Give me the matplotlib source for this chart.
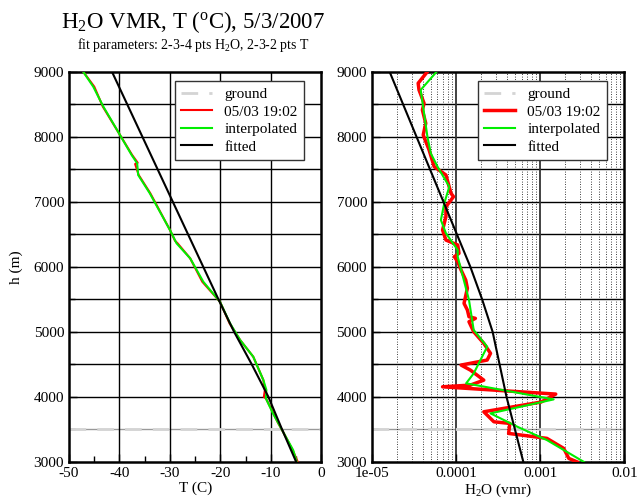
#!/usr/bin/env python3
import numpy as np
import matplotlib
matplotlib.use('Agg')
import matplotlib.pyplot as plt
from matplotlib.ticker import FixedLocator, FuncFormatter, LogLocator, NullFormatter

plt.rcParams['font.family'] = ['Liberation Serif', 'DejaVu Serif']
plt.rcParams['mathtext.fontset'] = 'custom'
plt.rcParams['mathtext.rm'] = 'Liberation Serif'
plt.rcParams['mathtext.it'] = 'Liberation Serif:italic'
plt.rcParams['axes.unicode_minus'] = False

# temperature profile (left panel)
t_h = [9000, 8769, 8462, 8026, 7719, 7591, 7411, 7130, 6565, 6361, 6130,
       5770, 5463, 5130, 4874, 4617, 4258, 4105, 3977, 3746, 3463, 3182, 3002]
t_meas = [-47.2, -45.2, -43.2, -39.9, -37.6, -36.5, -36.3, -34.0, -30.0, -28.7, -26.0,
          -23.4, -20.1, -18.1, -16.1, -13.5, -11.5, -10.9, -11.0, -9.6, -7.6, -5.6, -4.9]
t_raw_h = [9000, 8769, 8462, 8026, 7719, 7600, 7580, 7411, 7130, 6565, 6400, 6361, 6130,
           5770, 5463, 5200, 5130, 4874, 4617, 4258, 4105, 4000, 3977, 3746, 3600, 3463, 3182, 3002]
t_raw = [-47.2, -45.0, -43.3, -39.9, -37.5, -36.4, -36.9, -36.2, -33.9, -30.0, -29.0, -28.5, -26.0,
         -23.6, -20.1, -18.6, -18.2, -16.1, -13.5, -11.5, -11.2, -11.4, -11.0, -9.5, -8.6, -7.6, -5.7, -4.7]
t_fit_h = [9000, 5500, 5000, 4500, 4000, 3500, 3000]
t_fit = [-41.5, -20.4, -17.3, -13.8, -10.5, -7.8, -5.0]

# water vapour profile (right panel), log10 of vmr
w_raw_h = [9000, 8822, 8719, 8514, 8411, 8206, 8026, 7796, 7539, 7411, 7130, 7078, 6924,
           6770, 6565, 6411, 6335, 6207, 6155, 6078, 5950, 5796, 5669, 5438, 5335, 5232,
           5207, 5155, 5001, 4823, 4669, 4566, 4489, 4412, 4257, 4181, 4155, 4043, 3920,
           3771, 3617, 3592, 3438, 3362, 3208, 3054, 3000]
w_raw_log = [-4.34, -4.45, -4.44, -4.38, -4.40, -4.36, -4.39, -4.32, -4.26, -4.12, -4.06, -4.03, -4.12,
             -4.12, -4.16, -4.12, -3.98, -3.965, -4.02, -3.98, -3.94, -3.885, -3.865, -3.905, -3.865, -3.846,
             -3.77, -3.846, -3.79, -3.67, -3.59, -3.63, -3.94, -3.83, -3.67, -3.83, -4.16, -2.815, -2.99,
             -3.67, -3.55, -3.36, -3.375, -2.92, -2.72, -2.66, -2.56]
w_int_h = [9000, 8719, 8000, 7745, 7539, 7231, 6976, 6719, 6515, 6258, 6155, 5489, 5027,
           4771, 4361, 4208, 3961, 3746, 3540, 3336, 3000]
w_int_log = [-4.23, -4.42, -4.34, -4.30, -4.22, -4.08, -4.14, -4.18, -4.12, -3.98, -3.98, -3.846, -3.79,
             -3.63, -3.79, -3.88, -2.84, -3.59, -3.27, -2.92, -2.48]
w_fit_h = [9000, 6000, 5500, 5000, 4000, 3000]
w_fit_log = [-4.79, -3.83, -3.69, -3.565, -3.40, -3.20]

ground_h = 3500
h_lim = (3000, 9000)

fig = plt.figure(figsize=(6.39, 5.01), dpi=100)
ax1 = fig.add_axes([0.108, 0.078, 0.395, 0.779])
ax2 = fig.add_axes([0.582, 0.078, 0.395, 0.779])

for ax in (ax1, ax2):
  ax.set_ylim(*h_lim)
  ax.yaxis.set_major_locator(FixedLocator(range(3000, 9001, 1000)))
  ax.yaxis.set_minor_locator(FixedLocator(range(3500, 9000, 1000)))
  for hh in range(3500, 9000, 500):
    ax.axhline(hh, color='#999999' if hh == ground_h else 'black', lw=1.0, zorder=1)
  ax.tick_params(which='both', direction='in', top=False, right=False, labelsize=11)
  ax.tick_params(which='major', length=6, width=1)
  ax.tick_params(which='minor', length=4, width=1)
  for s in ax.spines.values():
    s.set_linewidth(1.8)

# left panel
ax1.set_xlim(-50, 0)
ax1.xaxis.set_major_locator(FixedLocator(range(-50, 1, 10)))
ax1.xaxis.set_minor_locator(FixedLocator(range(-45, 0, 10)))
for xx in range(-40, 0, 10):
  ax1.axvline(xx, color='black', lw=1.0, zorder=1)
ax1.plot([-50, 0], [ground_h, ground_h], color='#d4d4d4', lw=2, dashes=(6, 4), label='ground', zorder=2)
ax1.plot(t_raw, t_raw_h, color='red', lw=1.5, label='05/03 19:02', zorder=3)
ax1.plot(t_meas, t_h, color='#00ee00', lw=1.5, label='interpolated', zorder=4)
ax1.plot(t_fit, t_fit_h, color='black', lw=1.5, label='fitted', zorder=5)
ax1.set_xlabel('T (C)', fontsize=11, labelpad=1)
ax1.set_ylabel('h (m)', fontsize=11, labelpad=8)

# right panel
ax2.set_xscale('log')
ax2.set_xlim(1e-5, 1e-2)
ax2.xaxis.set_major_locator(FixedLocator([1e-5, 1e-4, 1e-3, 1e-2]))
ax2.xaxis.set_major_formatter(FuncFormatter(lambda v, p: {1e-5: '1e-05', 1e-4: '0.0001', 1e-3: '0.001', 1e-2: '0.01'}.get(v, '')))
ax2.xaxis.set_minor_locator(LogLocator(base=10, subs=np.arange(2, 10), numticks=20))
ax2.xaxis.set_minor_formatter(NullFormatter())
ax2.tick_params(axis='x', which='minor', length=0)
for d in [1e-5, 1e-4, 1e-3]:
  for k in range(2, 10):
    ax2.axvline(d * k, color='black', lw=0.6, ls=(0, (1, 2)), zorder=1)
for d in [1e-4, 1e-3]:
  ax2.axvline(d, color='#333333', lw=1.3, zorder=1)
ax2.plot([1e-5, 1e-2], [ground_h, ground_h], color='#d4d4d4', lw=2, dashes=(6, 4), label='ground', zorder=2)
ax2.plot(10 ** np.array(w_raw_log), w_raw_h, color='red', lw=2.5, label='05/03 19:02', zorder=3)
ax2.plot(10 ** np.array(w_int_log), w_int_h, color='#00ee00', lw=1.5, label='interpolated', zorder=4)
ax2.plot(10 ** np.array(w_fit_log), w_fit_h, color='black', lw=1.5, label='fitted', zorder=5)
ax2.set_xlabel('H$_2$O (vmr)', fontsize=11, labelpad=1)

for ax in (ax1, ax2):
  leg = ax.legend(loc='upper right', bbox_to_anchor=(0.93, 0.975), fontsize=11, frameon=True,
                  fancybox=False, framealpha=1, edgecolor='#333333', handlelength=2.0,
                  handletextpad=0.8, borderpad=0.4, labelspacing=0.25, borderaxespad=0)
  leg.get_frame().set_linewidth(1.0)
  leg.set_zorder(10)

fig.text(0.302, 0.945, 'H$_2$O VMR, T ($^\\mathrm{o}$C), 5/3/2007', ha='center', va='baseline', fontsize=16.5)
fig.text(0.302, 0.902, 'fit parameters: 2-3-4 pts H$_2$O, 2-3-2 pts T', ha='center', va='baseline', fontsize=10)

fig.savefig('out.png', dpi=100)
